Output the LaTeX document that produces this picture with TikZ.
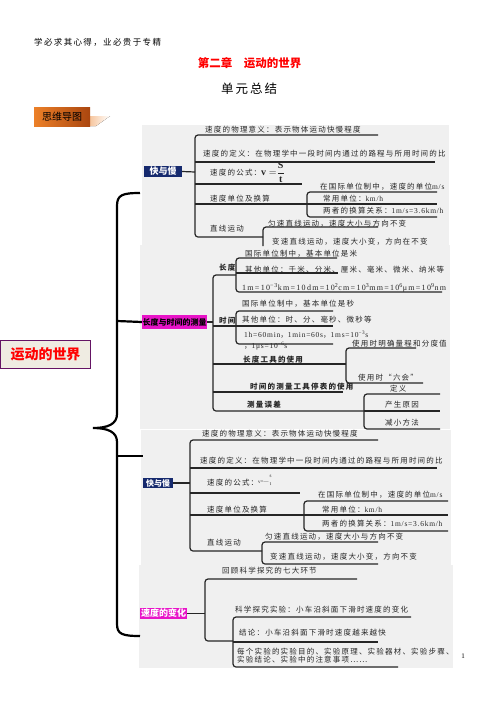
\documentclass[tikz,border=0pt]{standalone}
\usepackage{fontspec}
\setmainfont{Liberation Serif}
\newfontfamily\cjk[LetterSpace=16]{Noto Sans CJK SC}
\newfontfamily\cjkplain{Noto Sans CJK SC}
\newfontfamily\latfont[LetterSpace=10]{Liberation Serif}
\newfontfamily\widelat[LetterSpace=16]{Liberation Serif}
\usetikzlibrary{positioning}
\definecolor{panelgray}{RGB}{240,240,240}
\definecolor{navyblue}{RGB}{22,42,110}
\definecolor{hotpink}{RGB}{232,20,200}
\definecolor{mindorange}{RGB}{236,128,40}
\definecolor{burntorange}{RGB}{170,70,15}
\definecolor{boxbeige}{RGB}{239,236,226}
\definecolor{boxpurple}{RGB}{100,20,100}
\newcommand{\latn}[1]{{\latfont #1}}
\tikzset{
  maptext/.style={anchor=west, inner sep=0pt, text=black!85,
                  font=\cjk\fontsize{7.5}{8.5}\selectfont},
  mapbold/.style={maptext, font=\cjk\bfseries\fontsize{7.5}{8.5}\selectfont},
  mapline/.style={line width=1.2pt, draw=black!85, rounded corners=3pt},
  bracket/.style={line width=2.2pt, draw=black},
  panel/.style={fill=panelgray, draw=none},
  topicbox/.style={inner sep=0pt, align=center,
                   font=\cjkplain\bfseries\fontsize{9}{10}\selectfont},
  navybox/.style={topicbox, fill=navyblue, text=white},
  pinkbox/.style={topicbox, fill=hotpink},
  rootbox/.style={draw=boxpurple, line width=0.8pt, fill=boxbeige, text=red,
                  minimum width=90, minimum height=28, inner sep=0pt,
                  font=\cjkplain\bfseries\fontsize{14}{16}\selectfont},
  tagbox/.style={left color=mindorange, right color=burntorange,
                 minimum width=56, minimum height=19, inner sep=0pt,
                 font=\cjkplain\fontsize{10}{12}\selectfont}
}

\begin{document}
\begin{tikzpicture}[x=1pt,y=-1pt]
  \useasboundingbox (0,0) rectangle (496,702);
  % heading of the page
  \node[anchor=west, inner sep=0pt, font=\cjk\fontsize{8.5}{10}\selectfont] (motto) at (34,42) {学必求其心得，业必贵于专精};
  \node[inner sep=0pt, text=red, font=\cjkplain\bfseries\fontsize{11.5}{13}\selectfont] (chap) at (249.5,63) {第二章　运动的世界};
  \node[inner sep=0pt, font=\cjk\fontsize{12.5}{14}\selectfont] (unit) at (249,89) {单元总结};
  \fill[left color=mindorange!45, right color=white] (90,116) -- (110,116) -- (96,126) -- (90,126) -- cycle;
  \node[tagbox] (tag) at (62,116.5) {思维导图};

  % grey panels
  \fill[panel] (142,125) rectangle (449,246);
  \fill[panel] (140,245) rectangle (450,429);
  \fill[panel] (141,430) rectangle (451,565);
  \fill[panel] (139,565) rectangle (453,668);

  % root and big bracket
  \node[rootbox] (root) at (45.5,354) {运动的世界};
  \coordinate (brB) at (117,321);
  \coordinate (brC) at (117,456);
  \coordinate (endC) at (143,456);
  \draw[bracket] (140,193) .. controls (122,193) and (117,195) .. (117,206) -- (117,414)
    .. controls (117,424) and (108,428) .. (93,428)
    .. controls (108,428) and (117,432) .. (117,442) -- (117,624)
    .. controls (117,634) and (122,636) .. (140,636);

  % panel A: fast and slow
  \node[navybox, minimum width=38, minimum height=11] (kuaiA) at (163,171.5) {快与慢};
  \draw[mapline] (kuaiA.east) -- (195,172);
  \draw[mapline] (378,135) -- (195,135) -- (195,237) -- (263,237);
  \draw[mapline] (195,162) -- (435,162);
  \draw[mapline] (195,184) -- (302,184);
  \draw[mapline] (195,204) -- (437,204);
  \draw[mapline] (437,192) -- (307,192) -- (307,217) -- (437,217);
  \draw[mapline] (378,227) -- (263,227) -- (263,246);
  \node[maptext] (meanA) at (205,130) {速度的物理意义：表示物体运动快慢程度};
  \node[maptext] (defA) at (203,154) {速度的定义：在物理学中一段时间内通过的路程与所用时间的比};
  \node[maptext] (formA) at (210,172) {速度的公式：{\rmfamily\fontsize{10}{12}\selectfont$\mathbf{v=}\displaystyle\frac{\mathbf{S}}{\mathbf{t}}$}};
  \node[maptext] (unitA) at (210,199) {速度单位及换算};
  \node[maptext] (siA) at (320,187) {在国际单位制中，速度的单位\latn{m/s}};
  \node[maptext] (usualA) at (323,199) {常用单位：\latn{km/h}};
  \node[maptext] (convA) at (323,211) {两者的换算关系：\latn{1m/s=3.6km/h}};
  \node[maptext] (lineA) at (210,229) {直线运动};
  \node[maptext] (uniA) at (268,224) {匀速直线运动，速度大小与方向不变};
  \node[maptext] (varA) at (272,242) {变速直线运动，速度大小变，方向在不变};

  % panel B: measuring length and time
  \node[pinkbox, minimum width=65, minimum height=14, font=\cjkplain\bfseries\fontsize{8}{9}\selectfont] (lenbox) at (174.5,322) {长度与时间的测量};
  \draw[bracket] (brB) -- (lenbox.west);
  \draw[mapline] (lenbox.east) -- (213,322);
  \draw[mapline] (236,275) -- (213,275) -- (213,411) -- (364,411);
  \draw[mapline] (337,258) -- (236,258) -- (236,292) -- (442,292);
  \draw[mapline] (236,273) -- (338,273);
  \draw[mapline] (333,311) -- (236,311) -- (236,344) -- (333,344);
  \draw[mapline] (213,326) -- (333,326);
  \draw[mapline] (213,364) -- (346,364);
  \draw[mapline] (416,348) -- (346,348) -- (346,383) -- (423,383);
  \draw[mapline] (213,392) -- (343,392);
  \draw[mapline] (440,394) -- (364,394) -- (364,429) -- (440,429);
  \draw[mapline] (364,411) -- (440,411);
  \node[mapbold] (lenB) at (219,268) {长度};
  \node[maptext] (lenSI) at (245,254) {国际单位制中，基本单位是米};
  \node[maptext] (lenOther) at (245,270) {其他单位：千米、分米、厘米、毫米、微米、纳米等};
  \node[maptext, font=\widelat\fontsize{8}{9}\selectfont] (lenConv) at (242,288) {1m=10\textsuperscript{−3}km=10dm=10\textsuperscript{2}cm=10\textsuperscript{3}mm=10\textsuperscript{6}μm=10\textsuperscript{9}nm};
  \node[mapbold] (timeB) at (219,321) {时间};
  \node[maptext] (timeSI) at (242,304) {国际单位制中，基本单位是秒};
  \node[maptext] (timeOther) at (242,320) {其他单位：时、分、毫秒、微秒等};
  \node[maptext] (timeConv) at (244,335) {\latn{1h=60min}，\latn{1min=60s}，\latn{1ms=10\textsuperscript{−3}s}};
  \node[maptext] (timeConv2) at (244,346) {，\latn{1μs=10\textsuperscript{−6}s}};
  \node[mapbold] (ruler) at (243,360) {长度工具的使用};
  \node[maptext] (rulerA) at (352,344) {使用时明确量程和分度值};
  \node[maptext] (rulerB) at (358,378) {使用时“六会”};
  \node[mapbold] (watch) at (250,387) {时间的测量工具停表的使用};
  \node[mapbold] (error) at (247,405) {测量误差};
  \node[maptext] (errDef) at (390,389) {定义};
  \node[maptext] (errCause) at (385,405) {产生原因};
  \node[maptext] (errCut) at (385,423) {减小方法};

  % panel C: fast and slow again
  \draw[bracket] (brC) -- (endC);
  \node[navybox, minimum width=30, minimum height=10, font=\cjkplain\bfseries\fontsize{8}{9}\selectfont] (kuaiC) at (158,483) {快与慢};
  \draw[mapline] (kuaiC.east) -- (190,483);
  \draw[mapline] (378,440) -- (190,440) -- (190,551) -- (262,551);
  \draw[mapline] (190,468) -- (437,468);
  \draw[mapline] (190,493) -- (300,493);
  \draw[mapline] (190,515) -- (448,515);
  \draw[mapline] (448,501) -- (304,501) -- (304,531) -- (448,531);
  \draw[mapline] (378,542) -- (262,542) -- (262,564) -- (378,564);
  \node[maptext] (meanC) at (202,434) {速度的物理意义：表示物体运动快慢程度};
  \node[maptext] (defC) at (200,461) {速度的定义：在物理学中一段时间内通过的路程与所用时间的比};
  \node[maptext] (formC) at (207,481) {速度的公式：{\rmfamily\fontsize{5}{5}\selectfont\raisebox{2pt}{v=—}\hspace{1pt}\shortstack{s\\[2pt]t}}};
  \node[maptext] (unitC) at (207,510) {速度单位及换算};
  \node[maptext] (siC) at (318,495) {在国际单位制中，速度的单位\latn{m/s}};
  \node[maptext] (usualC) at (322,510) {常用单位：\latn{km/h}};
  \node[maptext] (convC) at (322,524) {两者的换算关系：\latn{1m/s=3.6km/h}};
  \node[maptext] (lineC) at (207,543) {直线运动};
  \node[maptext] (uniC) at (265,537) {匀速直线运动，速度大小与方向不变};
  \node[maptext] (varC) at (270,557) {变速直线运动，速度大小变，方向不变};

  % panel D: change of speed
  \node[pinkbox, text=white, minimum width=47, minimum height=11] (speed) at (163.5,613.5) {速度的变化};
  \draw[mapline] (speed.east) -- (205,613.5);
  \draw[mapline] (357,579) -- (205,579) -- (205,641) -- (233,641);
  \draw[mapline] (411,617) -- (233,617) -- (233,667) -- (398,667);
  \draw[mapline] (233,642) -- (378,642);
  \node[maptext] (steps) at (222,571) {回顾科学探究的七大环节};
  \node[maptext] (exper) at (235,610) {科学探究实验：小车沿斜面下滑时速度的变化};
  \node[maptext] (concl) at (239,633) {结论：小车沿斜面下滑时速度越来越快};
  \node[maptext, align=left, font=\cjk\fontsize{7.5}{8}\selectfont] (each) at (237,656) {每个实验的实验目的、实验原理、实验器材、实验步骤、\\实验结论、实验中的注意事项……};
  \node[inner sep=0pt, font=\latfont\fontsize{7}{8}\selectfont] (pnum) at (463,656) {1};
\end{tikzpicture}
\end{document}
